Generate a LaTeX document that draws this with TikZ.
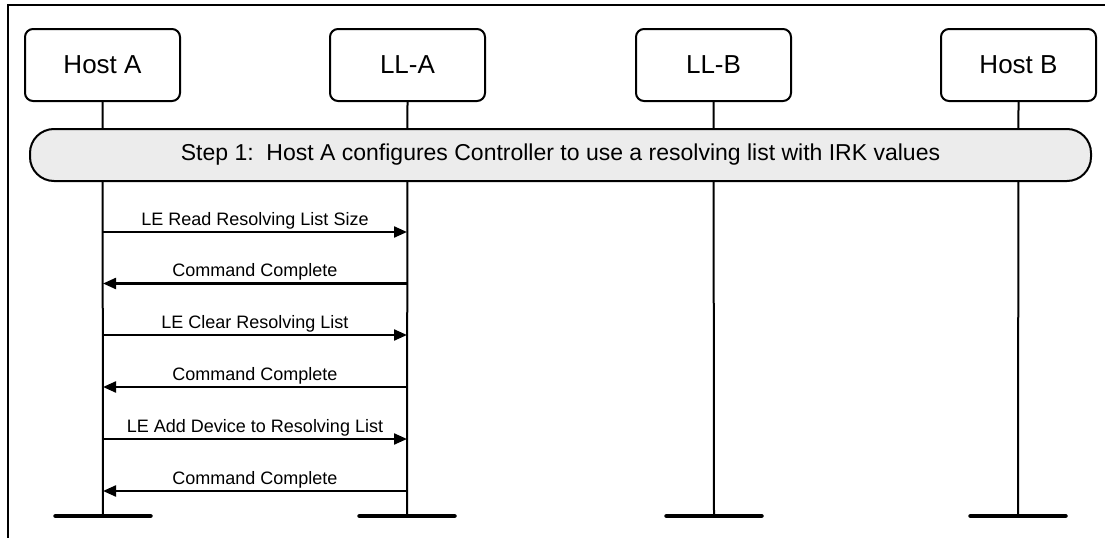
\documentclass[tikz,border=0pt]{standalone}
\usepackage{fontspec}
\setmainfont{Liberation Sans}
\usetikzlibrary{arrows.meta}
\definecolor{stepgray}{RGB}{236,236,236}
\tikzset{
  entity/.style={draw, line width=2pt, rounded corners=8pt, fill=white,
    minimum width=155pt, minimum height=72pt, inner sep=0pt,
    font=\fontsize{26}{30}\selectfont},
  lifeline/.style={line width=2pt},
  msg/.style={line width=2.2pt, -{Triangle[length=13pt,width=11pt]}},
  lbl/.style={anchor=base, yshift=7pt, inner sep=0pt, font=\fontsize{18}{21}\selectfont},
  stepbar/.style={draw, line width=2pt, rounded corners=24pt, fill=stepgray,
    minimum width=1061pt, minimum height=52pt, inner sep=0pt,
    font=\fontsize{23}{27}\selectfont},
  endbar/.style={line width=4.5pt, line cap=round},
  frame/.style={line width=2pt}
}
\begin{document}
\begin{tikzpicture}[x=1pt,y=-1pt]
\useasboundingbox (0,0) rectangle (1109,538);
\draw[frame] (8,538) -- (8,4.5) -- (1105,4.5);

\node[entity] (hA) at (102.5,65) {Host A};
\node[entity] (lA) at (407.5,65) {LL-A};
\node[entity] (lB) at (713.5,65) {LL-B};
\node[entity] (hB) at (1018.5,65) {Host B};

\coordinate (hAe) at (103,516);
\coordinate (lAe) at (407,516);
\coordinate (lBe) at (714,516);
\coordinate (hBe) at (1018,516);

\draw[lifeline] (hA.south) -- (hAe);
\draw[lifeline] (lA.south) -- (lAe);
\draw[lifeline] (lB.south) -- (lBe);
\draw[lifeline] (hB.south) -- (hBe);

\node[stepbar] (step) at (560.5,155) {Step 1:\ \ Host A configures Controller to use a resolving list with IRK values};

\draw[endbar] ([xshift=-47.5pt]hAe) -- ([xshift=47.5pt]hAe);
\draw[endbar] ([xshift=-47.5pt]lAe) -- ([xshift=47.5pt]lAe);
\draw[endbar] ([xshift=-47.5pt]lBe) -- ([xshift=47.5pt]lBe);
\draw[endbar] ([xshift=-47.5pt]hBe) -- ([xshift=47.5pt]hBe);

\foreach \i/\y in {1/232,2/283.5,3/335,4/387,5/439,6/491}{
  \coordinate (ha\i) at (103,\y);
  \coordinate (la\i) at (407,\y);
}
\draw[msg] (ha1) -- node[lbl] {LE Read Resolving List Size} (la1);
\draw[msg] (la2) -- node[lbl] {Command Complete} (ha2);
\draw[msg] (ha3) -- node[lbl] {LE Clear Resolving List} (la3);
\draw[msg] (la4) -- node[lbl] {Command Complete} (ha4);
\draw[msg] (ha5) -- node[lbl] {LE Add Device to Resolving List} (la5);
\draw[msg] (la6) -- node[lbl] {Command Complete} (ha6);
\end{tikzpicture}
\end{document}
